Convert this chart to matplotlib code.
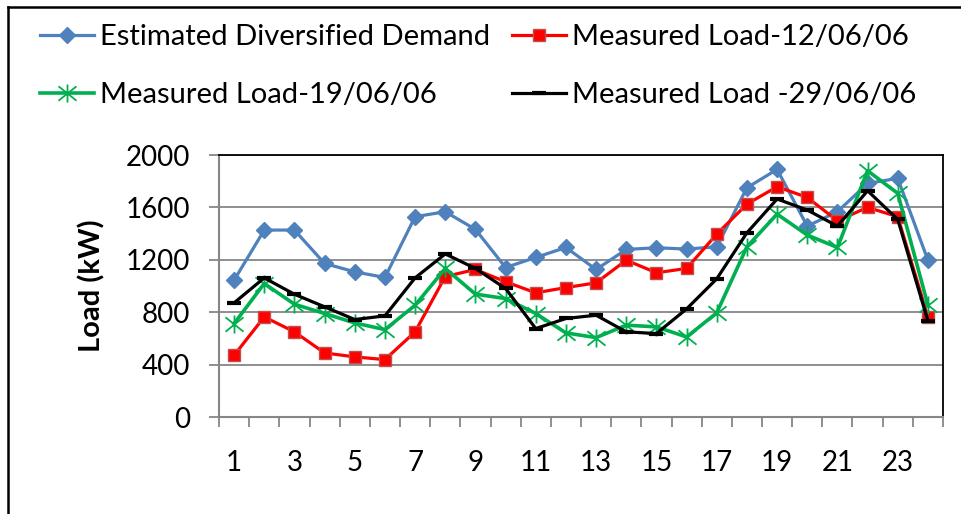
import numpy as np
import matplotlib
matplotlib.use('Agg')
import matplotlib.pyplot as plt
from matplotlib.path import Path
from matplotlib.lines import Line2D

plt.rcParams['font.family'] = ['Lato', 'DejaVu Sans']

hours = list(range(1, 25))
estimated = [1044, 1427, 1427, 1172, 1108, 1065, 1529, 1567, 1432, 1141, 1218, 1294,
             1126, 1279, 1292, 1282, 1299, 1750, 1890, 1457, 1567, 1783, 1822, 1197]
load_12 = [471, 764, 650, 489, 459, 438, 650, 1072, 1126, 1032, 948, 988,
           1024, 1197, 1101, 1134, 1396, 1625, 1758, 1676, 1498, 1600, 1529, 764]
load_19 = [713, 1019, 861, 790, 718, 667, 853, 1134, 938, 904, 790, 642,
           606, 701, 688, 611, 795, 1299, 1549, 1389, 1294, 1880, 1707, 854]
load_29 = [871, 1062, 937, 841, 744, 772, 1062, 1245, 1134, 981, 675, 752,
           777, 650, 637, 825, 1055, 1406, 1664, 1580, 1457, 1727, 1508, 734]
xtick_labels = [str(h) for h in range(1, 25, 2)]

# excel style star: X plus a vertical bar
star = Path([(-1, -0.8), (1, 0.8), (-1, 0.8), (1, -0.8), (0, -1), (0, 1)],
            [Path.MOVETO, Path.LINETO, Path.MOVETO, Path.LINETO, Path.MOVETO, Path.LINETO])

fig = plt.figure(figsize=(9.61, 5.14), dpi=100)
ax = fig.add_axes([219 / 961, 1 - 417 / 514, (943 - 219) / 961, (417 - 155) / 514])

l1, = ax.plot(hours, estimated, color='#4F81BD', lw=2.3, marker='D', ms=8.5,
              mfc='#4F81BD', mec='#4F81BD', label='Estimated Diversified Demand')
l2, = ax.plot(hours, load_12, color='#FF0000', lw=2.3, marker='s', ms=9,
              mfc='#FF0000', mec='#C0504D', mew=1, label='Measured Load-12/06/06')
l3, = ax.plot(hours, load_19, color='#00B050', lw=2.6, marker=star, ms=13,
              mec='#00B050', mew=1.3, label='Measured Load-19/06/06')
l4, = ax.plot(hours, load_29, color='#000000', lw=2.3, marker='_', ms=9.5,
              mew=3, label='Measured Load -29/06/06')

ax.set_xlim(0.5, 24.5)
ax.set_ylim(0, 2000)
ax.set_yticks(range(0, 2001, 400))
ax.set_xticks(range(1, 25, 2))
ax.set_xticklabels(xtick_labels)
ax.set_xticks(np.arange(0.5, 25, 1), minor=True)
ax.tick_params(axis='x', which='major', length=0, pad=24, labelsize=20)
ax.tick_params(axis='x', which='minor', length=7, width=1.3, color='#868686')
ax.tick_params(axis='y', length=7, width=1.3, color='#868686', pad=14, labelsize=20)
ax.grid(axis='y', color='#868686', lw=1.3)
ax.set_axisbelow(True)

for s in ['top', 'right']:
    ax.spines[s].set_color('black')
    ax.spines[s].set_linewidth(1.3)
for s in ['left', 'bottom']:
    ax.spines[s].set_color('#868686')
    ax.spines[s].set_linewidth(1.5)

ax.set_ylabel('Load (kW)', fontsize=21, fontweight='bold', labelpad=14)

fig.legend([l1, l3, l2, l4], [l.get_label() for l in [l1, l3, l2, l4]],
           ncol=2, loc='upper left', bbox_to_anchor=(40 / 961, 1 - 24 / 514),
           frameon=False, fontsize=21, handlelength=1.85, handletextpad=0.2,
           columnspacing=0.75, labelspacing=1.1, numpoints=1,
           borderpad=0, borderaxespad=0)

# outer chart frame (top and left edges visible)
fig.add_artist(Line2D([8 / 961, 1], [1 - 7 / 514, 1 - 7 / 514], color='black', lw=1.8))
fig.add_artist(Line2D([8 / 961, 8 / 961], [0, 1 - 7 / 514], color='black', lw=1.8))

fig.savefig('out.png', dpi=100)
